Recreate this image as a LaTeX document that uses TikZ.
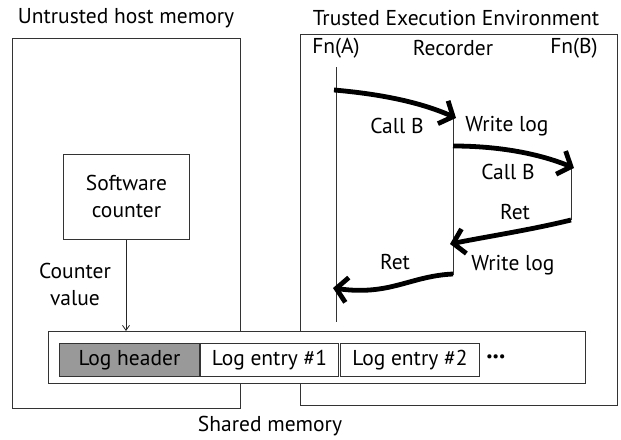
\documentclass[tikz,border=0pt]{standalone}
\usepackage{fontspec}
\setmainfont{PT Sans}
\usetikzlibrary{arrows.meta}
\begin{document}
\begin{tikzpicture}[x=1pt,y=-1pt,
  frame/.style={draw=black!80,line width=0.9pt},
  lbl/.style={font=\fontsize{21.5}{24}\selectfont,inner sep=1pt},
  cell/.style={draw=black!80,line width=0.9pt,minimum height=33pt,inner sep=0pt,font=\fontsize{21.5}{24}\selectfont},
  life/.style={draw=black!80,line width=0.8pt},
  call/.style={line width=4.8pt,-{Straight Barb[length=11pt,width=25pt,line width=4.8pt]}}]
\useasboundingbox (0,0) rectangle (621,439);
% outer boxes
\node[frame,minimum width=228pt,minimum height=370pt,anchor=north west,inner sep=0pt] (host) at (12,38) {};
\node[frame,minimum width=317pt,minimum height=371pt,anchor=north west,inner sep=0pt] (tee) at (300,34) {};
\node[lbl] (hostT) at (126,18) {Untrusted host memory};
\node[lbl] (teeT) at (456,18) {Trusted Execution Environment};
% shared memory
\node[frame,fill=white,minimum width=537pt,minimum height=52pt,anchor=north west,inner sep=0pt] (shm) at (48,331) {};
\node[lbl] (shmT) at (270,426) {Shared memory};
\node[cell,fill=black!40,minimum width=140pt,anchor=north west] (hdr) at (59,343) {Log header};
\node[cell,minimum width=138pt,anchor=north west] (e1) at (200,343) {Log entry \#1};
\node[cell,minimum width=139pt,anchor=north west] (e2) at (340,343) {Log entry \#2};
\node[anchor=west,inner sep=0pt,font=\fontsize{15}{15}\selectfont] (dots) at (486,358) {\textbullet\kern-0.5pt\textbullet\kern-0.5pt\textbullet};
% software counter
\node[frame,minimum width=126pt,minimum height=85pt,anchor=north west,inner sep=0pt,align=center,font=\fontsize{21.5}{27}\selectfont] (sc) at (63,154) {Software\\counter};
\coordinate (scarrow) at (126,331);
\draw[black!85,line width=0.8pt,-{Straight Barb[length=5pt,width=7pt,line width=0.8pt]}] (sc.south -| scarrow) -- (scarrow);
\node[lbl,align=center,font=\fontsize{21.5}{27}\selectfont] (cv) at (75,284) {Counter\\value};
% lifelines
\node[lbl] (fa) at (336,48) {Fn(A)};
\node[lbl] (rec) at (453,48) {Recorder};
\node[lbl] (fb) at (574,48) {Fn(B)};
\coordinate (a1) at (336,67); \coordinate (a2) at (336,322);
\coordinate (r1) at (453,117); \coordinate (r2) at (453,275);
\coordinate (b1) at (571,167); \coordinate (b2) at (571,220);
\draw[life] (a1) -- (a2);
\draw[life] (r1) -- (r2);
\draw[life] (b1) -- (b2);
% calls
\coordinate (c1s) at (334,90); \coordinate (c1e) at (456,118);
\coordinate (c2s) at (453,146); \coordinate (c2e) at (574,168);
\coordinate (c3s) at (571,220); \coordinate (c3e) at (450,244);
\coordinate (c4s) at (453,274); \coordinate (c4e) at (333,288);
\draw[call] (c1s) .. controls (380,94) and (420,102) .. (c1e);
\draw[call] (c2s) .. controls (500,146) and (540,154) .. (c2e);
\draw[call] (c3s) .. controls (530,230) and (490,236) .. (c3e);
\draw[call] (c4s) .. controls (410,276) and (390,296) .. (c4e);
\node[lbl] (l1) at (397,126) {Call B};
\node[lbl] (l2) at (507,126) {Write log};
\node[lbl] (l3) at (508,172) {Call B};
\node[lbl] (l4) at (515,212) {Ret};
\node[lbl] (l5) at (513,265) {Write log};
\node[lbl] (l6) at (395,262) {Ret};
\end{tikzpicture}
\end{document}
